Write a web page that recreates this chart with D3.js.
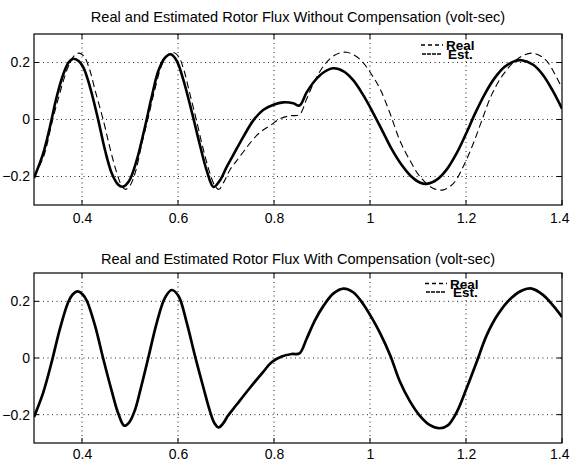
<!DOCTYPE html>
<html>
<head>
<meta charset="utf-8">
<script src="https://cdn.jsdelivr.net/npm/d3@7"></script>
<style>
  body { margin: 0; background: #fff; }
  svg { display: block; }
  text { font-family: "Liberation Sans", Arial, Helvetica, sans-serif; fill: #000; }
</style>
</head>
<body>
<svg id="chart" width="570" height="461"></svg>
<script>
// Axis ticks shared by both panels
const xTicks = [0.4, 0.6, 0.8, 1, 1.2, 1.4];
const yTicks = [-0.2, 0, 0.2];
const xDomain = [0.3, 1.4];
const yDomain = [-0.3, 0.3];

// Panel 1: without compensation — estimated flux (solid)
const tEstNoComp = [0.300,0.319,0.333,0.347,0.361,0.372,0.382,0.393,0.403,0.417,0.434,0.448,0.462,0.475,0.485,0.498,0.514,0.531,0.545,0.559,0.573,0.585,0.597,0.611,0.629,0.645,0.660,0.674,0.688,0.701,0.715,0.736,0.757,0.778,0.799,0.819,0.840,0.853,0.868,0.885,0.903,0.924,0.945,0.965,0.985,1.005,1.025,1.045,1.065,1.085,1.105,1.118,1.140,1.160,1.180,1.200,1.220,1.240,1.260,1.280,1.300,1.316,1.340,1.360,1.380,1.400];
const fluxEstNoComp = [-0.205,-0.120,-0.027,0.078,0.159,0.200,0.213,0.205,0.182,0.112,-0.003,-0.108,-0.189,-0.228,-0.236,-0.216,-0.143,-0.027,0.078,0.170,0.217,0.229,0.207,0.140,0.025,-0.085,-0.180,-0.237,-0.212,-0.168,-0.125,-0.061,-0.003,0.034,0.052,0.060,0.057,0.049,0.095,0.136,0.165,0.180,0.169,0.138,0.088,0.028,-0.037,-0.103,-0.157,-0.198,-0.222,-0.226,-0.210,-0.175,-0.120,-0.050,0.025,0.092,0.146,0.184,0.204,0.208,0.192,0.157,0.103,0.038];

// Panel 1: without compensation — real flux (dashed)
const tRealNoComp = [0.300,0.320,0.339,0.355,0.370,0.383,0.394,0.404,0.415,0.428,0.444,0.458,0.472,0.482,0.490,0.500,0.512,0.524,0.537,0.551,0.566,0.578,0.590,0.601,0.612,0.624,0.638,0.652,0.665,0.676,0.685,0.696,0.708,0.722,0.736,0.750,0.764,0.778,0.792,0.812,0.833,0.853,0.868,0.885,0.906,0.927,0.951,0.979,1.003,1.021,1.042,1.062,1.083,1.104,1.130,1.153,1.174,1.194,1.215,1.233,1.254,1.278,1.306,1.337,1.365,1.389,1.400];
const fluxRealNoComp = [-0.200,-0.130,0.000,0.100,0.180,0.222,0.233,0.222,0.180,0.098,0.000,-0.098,-0.185,-0.230,-0.245,-0.232,-0.180,-0.090,0.000,0.100,0.190,0.226,0.235,0.222,0.175,0.095,0.000,-0.100,-0.180,-0.230,-0.245,-0.218,-0.177,-0.145,-0.114,-0.083,-0.056,-0.036,-0.021,0.002,0.013,0.017,0.072,0.136,0.194,0.226,0.236,0.211,0.159,0.107,0.020,-0.073,-0.143,-0.200,-0.240,-0.247,-0.224,-0.166,-0.085,-0.003,0.089,0.159,0.211,0.233,0.211,0.147,0.110];

// Panel 2: with compensation — estimated flux (solid)
const tEstComp = [0.300,0.319,0.337,0.354,0.371,0.381,0.391,0.401,0.410,0.427,0.444,0.462,0.476,0.488,0.498,0.510,0.521,0.538,0.556,0.573,0.587,0.601,0.618,0.635,0.653,0.667,0.676,0.685,0.694,0.704,0.722,0.750,0.778,0.795,0.816,0.837,0.853,0.868,0.885,0.903,0.924,0.945,0.965,0.986,1.007,1.021,1.042,1.062,1.083,1.104,1.125,1.145,1.162,1.181,1.201,1.222,1.243,1.267,1.295,1.319,1.337,1.361,1.382,1.400];
const fluxEstComp = [-0.208,-0.123,-0.013,0.103,0.196,0.225,0.235,0.225,0.202,0.115,-0.001,-0.117,-0.198,-0.239,-0.228,-0.185,-0.117,0.000,0.126,0.213,0.240,0.219,0.126,0.010,-0.105,-0.190,-0.230,-0.245,-0.231,-0.204,-0.165,-0.105,-0.048,-0.015,0.005,0.014,0.016,0.068,0.132,0.184,0.228,0.245,0.232,0.190,0.132,0.088,0.010,-0.082,-0.152,-0.204,-0.237,-0.248,-0.238,-0.190,-0.108,-0.015,0.080,0.155,0.213,0.240,0.245,0.222,0.184,0.145];

// Panel 2: with compensation — real flux (dashed, lies under the estimate)
const tRealComp = [0.300,0.319,0.337,0.354,0.371,0.381,0.391,0.401,0.410,0.427,0.444,0.462,0.476,0.488,0.498,0.510,0.521,0.538,0.556,0.573,0.587,0.601,0.618,0.635,0.653,0.667,0.676,0.685,0.694,0.704,0.722,0.750,0.778,0.795,0.816,0.837,0.853,0.868,0.885,0.903,0.924,0.945,0.965,0.986,1.007,1.021,1.042,1.062,1.083,1.104,1.125,1.145,1.162,1.181,1.201,1.222,1.243,1.267,1.295,1.319,1.337,1.361,1.382,1.400];
const fluxRealComp = [-0.206,-0.122,-0.012,0.103,0.196,0.226,0.236,0.226,0.202,0.115,0.000,-0.117,-0.198,-0.238,-0.228,-0.185,-0.117,0.000,0.126,0.213,0.240,0.219,0.126,0.010,-0.105,-0.190,-0.230,-0.244,-0.231,-0.204,-0.165,-0.105,-0.048,-0.015,0.005,0.014,0.016,0.068,0.132,0.184,0.228,0.245,0.232,0.190,0.132,0.088,0.010,-0.082,-0.152,-0.204,-0.237,-0.247,-0.238,-0.190,-0.108,-0.015,0.080,0.155,0.213,0.240,0.245,0.222,0.184,0.145];

const titles = [
  "Real and Estimated Rotor Flux Without Compensation (volt-sec)",
  "Real and Estimated Rotor Flux With Compensation (volt-sec)"
];
const legendLabels = ["Real", "Est."];

const zip = (ts, vs) => ts.map((t, i) => ({ t, v: vs[i] }));

const panels = [
  {
    title: titles[0], top: 34, bottom: 205, titleY: 22, xLabelY: 223,
    est: zip(tEstNoComp, fluxEstNoComp), real: zip(tRealNoComp, fluxRealNoComp),
    estWidth: 2.6,
    legend: { lineX0: 421, lineX1: 443, realY: 45, estY: 54, realTextX: 446, estTextX: 448, realBase: 50, estBase: 58.5 }
  },
  {
    title: titles[1], top: 273, bottom: 443, titleY: 264, xLabelY: 459,
    est: zip(tEstComp, fluxEstComp), real: zip(tRealComp, fluxRealComp),
    estWidth: 2.7,
    legend: { lineX0: 425, lineX1: 447, realY: 283.5, estY: 292, realTextX: 450, estTextX: 453, realBase: 288.5, estBase: 297 }
  }
];

const svg = d3.select("#chart");
const left = 34, right = 562;
const x = d3.scaleLinear().domain(xDomain).range([left, right]);
const fmt = d3.format("~g");

panels.forEach(p => {
  const y = d3.scaleLinear().domain(yDomain).range([p.bottom, p.top]);
  const g = svg.append("g");

  // Title
  g.append("text")
    .attr("x", (left + right) / 2).attr("y", p.titleY)
    .attr("text-anchor", "middle")
    .style("font-size", "14.6px")
    .text(p.title);

  // Dotted grid
  g.append("g").selectAll("line").data(xTicks.filter(d => d < xDomain[1])).join("line")
    .attr("x1", d => x(d)).attr("x2", d => x(d))
    .attr("y1", p.top).attr("y2", p.bottom)
    .attr("stroke", "#222").attr("stroke-width", 1).attr("stroke-dasharray", "1,3.5");
  g.append("g").selectAll("line").data(yTicks).join("line")
    .attr("x1", left).attr("x2", right)
    .attr("y1", d => y(d)).attr("y2", d => y(d))
    .attr("stroke", "#222").attr("stroke-width", 1).attr("stroke-dasharray", "1,3.5");

  // Axes: labels outside, tick marks pointing inward on all four sides
  const xAxisB = d3.axisBottom(x).tickValues(xTicks).tickSize(0).tickPadding(0).tickFormat(fmt);
  const gxb = g.append("g").attr("transform", `translate(0,${p.bottom})`).call(xAxisB);
  gxb.select(".domain").remove();
  gxb.selectAll("text").attr("dy", null).attr("y", p.xLabelY - p.bottom)
    .style("font-size", "14px").style("font-family", "'Liberation Sans', Arial, sans-serif").attr("fill", "#000");
  // the last label sits against the right edge of the figure
  gxb.selectAll(".tick").filter(d => d === xDomain[1]).select("text")
    .attr("text-anchor", "end").attr("x", 569 - x(xDomain[1]));

  const yAxisL = d3.axisLeft(y).tickValues(yTicks).tickSize(0).tickPadding(4).tickFormat(fmt);
  const gyl = g.append("g").attr("transform", `translate(${left},0)`).call(yAxisL);
  gyl.select(".domain").remove();
  gyl.selectAll("text").style("font-size", "14px")
    .style("font-family", "'Liberation Sans', Arial, sans-serif").attr("fill", "#000");

  const tk = 5;
  const ticks = g.append("g").attr("stroke", "#000").attr("stroke-width", 1);
  xTicks.forEach(d => {
    ticks.append("line").attr("x1", x(d)).attr("x2", x(d)).attr("y1", p.bottom).attr("y2", p.bottom - tk);
    ticks.append("line").attr("x1", x(d)).attr("x2", x(d)).attr("y1", p.top).attr("y2", p.top + tk);
  });
  yTicks.forEach(d => {
    ticks.append("line").attr("x1", left).attr("x2", left + tk).attr("y1", y(d)).attr("y2", y(d));
    ticks.append("line").attr("x1", right).attr("x2", right - tk).attr("y1", y(d)).attr("y2", y(d));
  });

  // Flux traces
  const clipId = "clip" + p.top;
  svg.append("defs").append("clipPath").attr("id", clipId)
    .append("rect").attr("x", left).attr("y", p.top).attr("width", right - left).attr("height", p.bottom - p.top);

  const line = d3.line().x(d => x(d.t)).y(d => y(d.v)).curve(d3.curveCatmullRom.alpha(0.5));
  const plot = g.append("g").attr("clip-path", `url(#${clipId})`);
  plot.append("path").datum(p.real).attr("d", line)
    .attr("fill", "none").attr("stroke", "#000").attr("stroke-width", 1.1)
    .attr("stroke-dasharray", "7,4");
  plot.append("path").datum(p.est).attr("d", line)
    .attr("fill", "none").attr("stroke", "#000").attr("stroke-width", p.estWidth)
    .attr("stroke-linejoin", "round");

  // Axes box
  g.append("rect").attr("x", left).attr("y", p.top)
    .attr("width", right - left).attr("height", p.bottom - p.top)
    .attr("fill", "none").attr("stroke", "#000").attr("stroke-width", 1.2);

  // Legend
  const L = p.legend;
  g.append("line").attr("x1", L.lineX0).attr("x2", L.lineX1).attr("y1", L.realY).attr("y2", L.realY)
    .attr("stroke", "#000").attr("stroke-width", 1.5).attr("stroke-dasharray", "4,3");
  g.append("line").attr("x1", L.lineX0 + 1).attr("x2", L.lineX1 - 2).attr("y1", L.estY).attr("y2", L.estY)
    .attr("stroke", "#000").attr("stroke-width", 1.5).attr("stroke-dasharray", "4,1");
  g.append("text").attr("x", L.realTextX).attr("y", L.realBase)
    .style("font-size", "13.5px").style("font-weight", "bold").text(legendLabels[0]);
  g.append("text").attr("x", L.estTextX).attr("y", L.estBase)
    .style("font-size", "13.5px").style("font-weight", "bold").text(legendLabels[1]);
});
</script>
</body>
</html>
